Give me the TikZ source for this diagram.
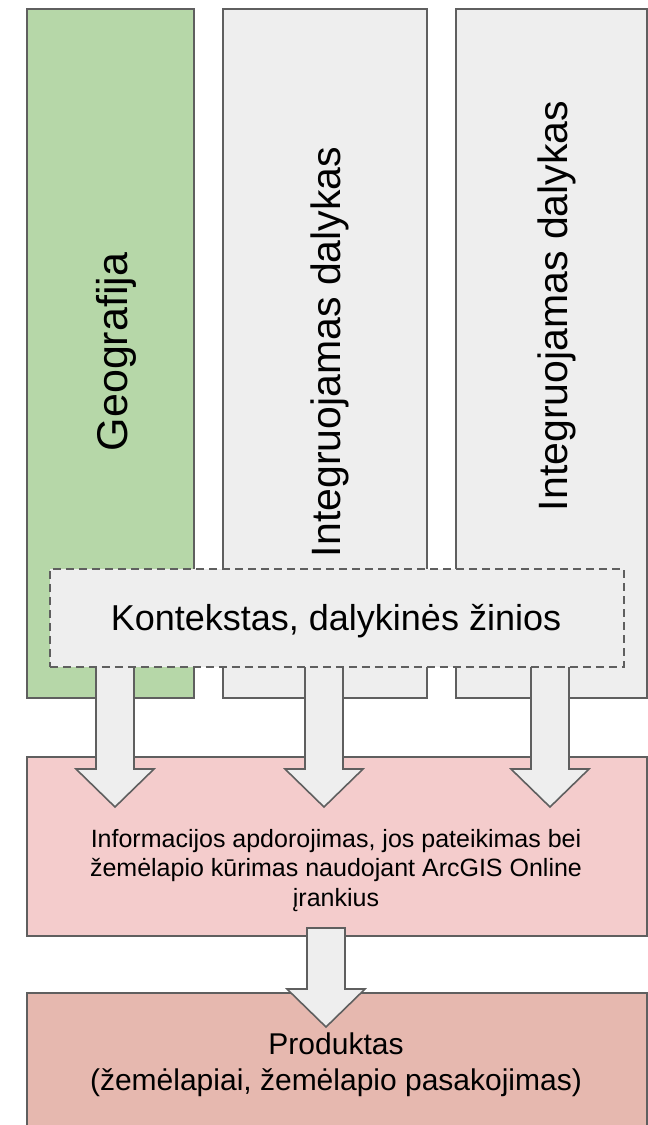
\documentclass[tikz,border=0pt]{standalone}
\usepackage{fontspec}
\setmainfont{Liberation Sans}
\definecolor{edge}{HTML}{5F5F5F}
\definecolor{geogreen}{HTML}{B6D7A8}
\definecolor{lightgray}{HTML}{EEEEEE}
\definecolor{pinkbox}{HTML}{F4CCCC}
\definecolor{prodbox}{HTML}{E6B8AF}
\newcommand{\blockarrow}[2]{%
  \draw[arrowbody] let \p1=(#1), \p2=(#2) in
    (\x1-19pt,\y1) -- (\x1+19pt,\y1) -- (\x1+19pt,\y2+38pt) -- (\x1+39pt,\y2+38pt)
    -- (\x2,\y2) -- (\x1-39pt,\y2+38pt) -- (\x1-19pt,\y2+38pt) -- cycle;}
\usetikzlibrary{calc}
\begin{document}
\begin{tikzpicture}[x=1pt,y=-1pt,
  box/.style={draw=edge, line width=1.6pt, inner sep=0pt},
  arrowbody/.style={draw=edge, fill=lightgray, line width=1.6pt, line join=miter},
  dashbox/.style={draw=edge, fill=lightgray, line width=1.6pt, dash pattern=on 8pt off 5pt, inner sep=0pt}]
\useasboundingbox (0,0) rectangle (648,1125);
% columns
\node[box, fill=geogreen, anchor=north west, minimum width=167pt, minimum height=689pt] (geo) at (26,8) {};
\node[box, fill=lightgray, anchor=north west, minimum width=204pt, minimum height=689pt] (col2) at (222,8) {};
\node[box, fill=lightgray, anchor=north west, minimum width=191pt, minimum height=689pt] (col3) at (455,8) {};
\node[rotate=90, anchor=base, font=\fontsize{43}{50}\selectfont] (geotxt) at (127,352) {Geografija};
\node[rotate=90, anchor=base, font=\fontsize{41}{48}\selectfont] (col2txt) at (340,352) {Integruojamas dalykas};
\node[rotate=90, anchor=base, font=\fontsize{41}{48}\selectfont] (col3txt) at (567,306) {Integruojamas dalykas};
% processing and product boxes
\node[box, fill=pinkbox, anchor=north west, minimum width=620pt, minimum height=179pt] (proc) at (26,756) {};
\node[box, fill=prodbox, anchor=north west, minimum width=620pt, minimum height=150pt] (prod) at (26,992) {};
\node[anchor=base, align=center, font=\fontsize{25}{29.5}\selectfont] (proctxt) at (336,906)
  {Informacijos apdorojimas, jos pateikimas bei\\žemėlapio kūrimas naudojant ArcGIS Online\\įrankius};
\node[anchor=base, align=center, font=\fontsize{30}{36}\selectfont] (prodtxt) at (336,1090)
  {Produktas\\(žemėlapiai, žemėlapio pasakojimas)};
% arrow coordinates
\coordinate (a1s) at (115,640); \coordinate (a1e) at (115,807);
\coordinate (a2s) at (324,640); \coordinate (a2e) at (324,807);
\coordinate (a3s) at (550,640); \coordinate (a3e) at (550,807);
\coordinate (a4s) at (326,928); \coordinate (a4e) at (326,1027);
\blockarrow{a1s}{a1e}
\blockarrow{a2s}{a2e}
\blockarrow{a3s}{a3e}
\blockarrow{a4s}{a4e}
% context box
\node[dashbox, anchor=north west, minimum width=574pt, minimum height=98pt] (ctx) at (49,568) {};
\node[anchor=base, font=\fontsize{36}{42}\selectfont] (ctxtxt) at (336,630) {Kontekstas, dalykinės žinios};
\end{tikzpicture}
\end{document}
